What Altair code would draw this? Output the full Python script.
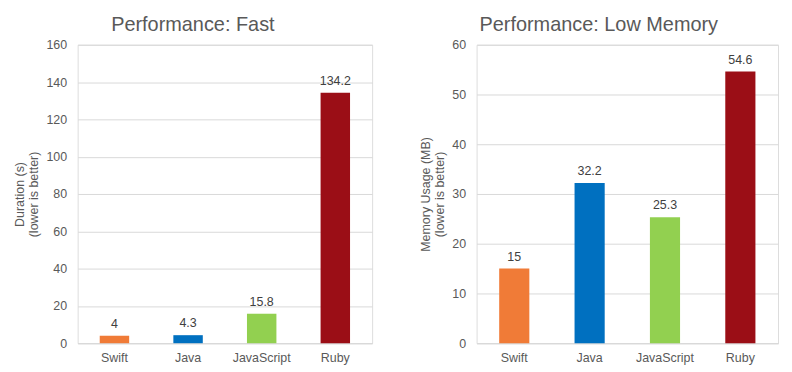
import altair as alt
import pandas as pd

languages = ["Swift", "Java", "JavaScript", "Ruby"]
duration = [4, 4.3, 15.8, 134.2]
memory = [15, 32.2, 25.3, 54.6]
colors = ["#F07B37", "#0070C0", "#92D050", "#9B0E16"]

df_fast = pd.DataFrame({"lang": languages, "value": duration, "label": ["4", "4.3", "15.8", "134.2"]})
df_mem = pd.DataFrame({"lang": languages, "value": memory, "label": ["15", "32.2", "25.3", "54.6"]})

FONT = "Liberation Sans"


def panel(df, title, ytitle, ymax, ystep, width):
    x = alt.X("lang:N", sort=languages, title=None,
              scale=alt.Scale(paddingInner=0.6, paddingOuter=0.3),
              axis=alt.Axis(labelAngle=0, ticks=False, domain=True, domainColor="#d9d9d9",
                            labelColor="#595959", labelFontSize=12.5, labelPadding=8, labelFont=FONT))
    y = alt.Y("value:Q", title=ytitle,
              scale=alt.Scale(domain=[0, ymax], nice=False),
              axis=alt.Axis(values=list(range(0, ymax + 1, ystep)), ticks=False, domain=False,
                            labelOverlap=False,
                            gridColor="#d9d9d9", labelColor="#595959", labelFontSize=12.5,
                            labelPadding=11, titleColor="#595959", titleFontSize=12.5,
                            titleFontWeight="normal", titleFont=FONT, labelFont=FONT,
                            titlePadding=5))
    color = alt.Color("lang:N", scale=alt.Scale(domain=languages, range=colors), legend=None)
    bars = alt.Chart(df).mark_bar().encode(x=x, y=y, color=color)
    text = alt.Chart(df).mark_text(dy=-12, fontSize=12.5, color="#404040", font=FONT).encode(
        x=x, y=y, text="label:N")
    return (bars + text).properties(
        width=width, height=300,
        title=alt.TitleParams(title, fontSize=20, fontWeight="normal", color="#595959",
                              font=FONT, anchor="middle", frame="bounds", offset=4))


left = panel(df_fast, "Performance: Fast", ["Duration (s)", "(lower is better)"], 160, 20, 296)
right = panel(df_mem, "Performance: Low Memory", ["Memory Usage (MB)", "(lower is better)"], 60, 10, 303)

chart = alt.hconcat(left, right, spacing=46).configure_view(stroke=None).configure(background="white")

chart.save("out.html", embed_options={"renderer": "svg", "actions": False})
